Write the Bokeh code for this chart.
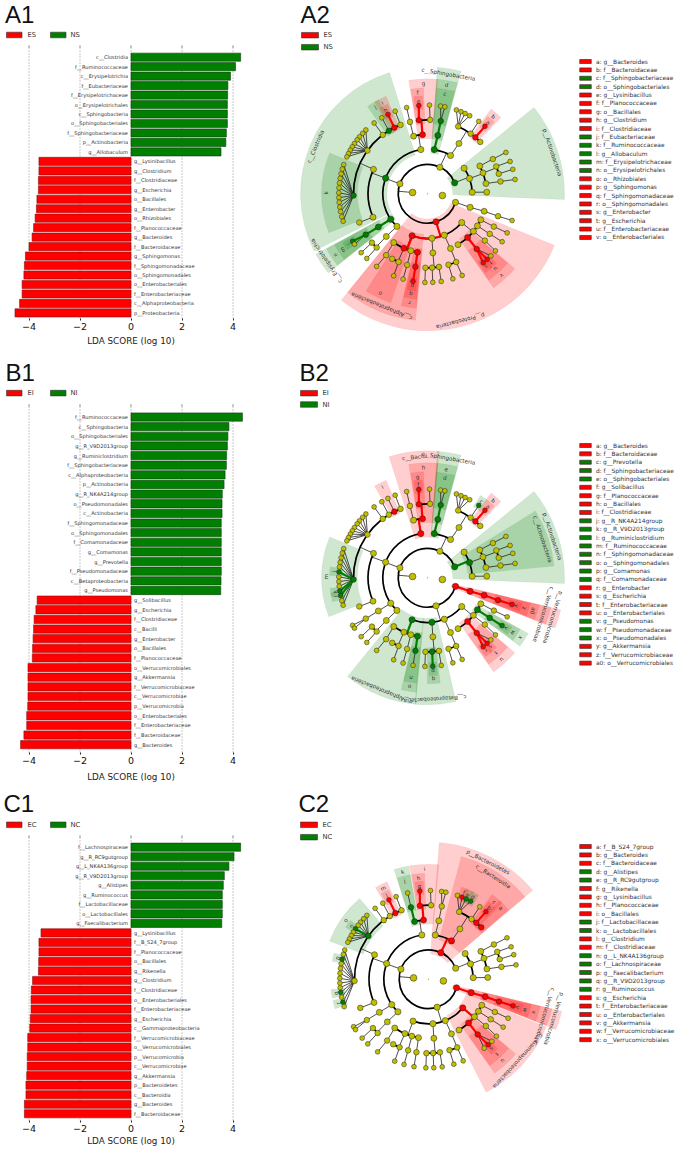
import math
from bokeh.plotting import figure
from bokeh.layouts import column, row
from bokeh.models import Range1d, FixedTicker
from bokeh.core.properties import value
from bokeh.embed import file_html
from bokeh.resources import INLINE

# ---------- LDA bar data ----------
A1_NAMES_NS = ["c__Clostridia", "f__Ruminococcaceae", "c__Erysipelotrichia", "f__Eubacteriaceae", "f__Erysipelotrichaceae", "o__Erysipelotrichales", "c__Sphingobacteria", "o__Sphingobacteriales", "f__Sphingobacteriaceae", "p__Actinobacteria", "g__Allobaculum"]
A1_VALUES_NS = [4.30, 4.10, 3.90, 3.80, 3.79, 3.78, 3.78, 3.78, 3.74, 3.72, 3.53]
A1_NAMES_ES = ["g__Lysinibacillus", "g__Clostridium", "f__Clostridiaceae", "g__Escherichia", "o__Bacillales", "g__Enterobacter", "o__Rhizobiales", "f__Planococcaceae", "g__Bacteroides", "f__Bacteroidaceae", "g__Sphingomonas", "f__Sphingomonadaceae", "o__Sphingomonadales", "o__Enterobacteriales", "f__Enterobacteriaceae", "c__Alphaproteobacteria", "p__Proteobacteria"]
A1_VALUES_ES = [-3.61, -3.61, -3.63, -3.63, -3.69, -3.71, -3.76, -3.82, -3.88, -4.00, -4.14, -4.18, -4.20, -4.27, -4.27, -4.37, -4.55]

B1_NAMES_NI = ["f__Ruminococcaceae", "c__Sphingobacteria", "o__Sphingobacteriales", "g__R_V9D2013group", "g__Ruminiclostridium", "f__Sphingobacteriaceae", "c__Alphaproteobacteria", "p__Actinobacteria", "g__R_NK4A214group", "o__Pseudomonadales", "c__Actinobacteria", "f__Sphingomonadaceae", "o__Sphingomonadales", "f__Comamonadaceae", "g__Comamonas", "g__Prevotella", "f__Pseudomonadaceae", "c__Betaproteobacteria", "g__Pseudomonas"]
B1_VALUES_NI = [4.37, 3.84, 3.80, 3.78, 3.75, 3.74, 3.69, 3.65, 3.58, 3.57, 3.57, 3.54, 3.54, 3.54, 3.54, 3.54, 3.54, 3.53, 3.52]
B1_NAMES_EI = ["g__Solibacillus", "g__Escherichia", "f__Clostridiaceae", "c__Bacilli", "g__Enterobacter", "o__Bacillales", "f__Planococcaceae", "o__Verrucomicrobiales", "g__Akkermansia", "f__Verrucomicrobiaceae", "c__Verrucomicrobiae", "p__Verrucomicrobia", "o__Enterobacteriales", "f__Enterobacteriaceae", "f__Bacteroidaceae", "g__Bacteroides"]
B1_VALUES_EI = [-3.68, -3.73, -3.80, -3.82, -3.84, -3.86, -3.87, -4.04, -4.04, -4.04, -4.04, -4.05, -4.09, -4.09, -4.20, -4.33]

C1_NAMES_NC = ["f__Lachnospiraceae", "g__R_RC9gutgroup", "g__L_NK4A136group", "g__R_V9D2013group", "g__Alistipes", "g__Ruminococcus", "f__Lactobacillaceae", "o__Lactobacillales", "g__Faecalibacterium"]
C1_VALUES_NC = [4.30, 4.04, 3.84, 3.66, 3.62, 3.58, 3.58, 3.58, 3.56]
C1_NAMES_EC = ["g__Lysinibacillus", "f__B_S24_7group", "f__Planococcaceae", "o__Bacillales", "g__Rikenella", "g__Clostridium", "f__Clostridiaceae", "o__Enterobacteriales", "f__Enterobacteriaceae", "g__Escherichia", "c__Gammaproteobacteria", "f__Verrucomicrobiaceae", "o__Verrucomicrobiales", "p__Verrucomicrobia", "c__Verrucomicrobiae", "g__Akkermansia", "p__Bacteroidetes", "c__Bacteroidia", "g__Bacteroides", "f__Bacteroidaceae"]
C1_VALUES_EC = [-3.53, -3.61, -3.61, -3.62, -3.63, -3.86, -3.91, -3.92, -3.92, -3.95, -3.97, -4.05, -4.05, -4.07, -4.07, -4.09, -4.12, -4.12, -4.18, -4.18]

TICKS = [-4, -2, 0, 2, 4]

# ---------- Shared taxonomy tree: (node, parent, rank level, angle in degrees) ----------
ROOT_NODES = [("kB", None, 1, 175), ("kA", None, 1, 353.5)]
ACTINO_NODES = [
    ("pAct", "kB", 2, 22), ("cA1", "pAct", 3, 35), ("cAct", "pAct", 3, 20), ("cA3", "pAct", 3, 2),
    ("oA1", "cAct", 4, 28), ("oA2", "cAct", 4, 20.6), ("oA3", "cAct", 4, 10), ("oA4", "cA3", 4, 1.6),
    ("fA1", "oA1", 5, 28), ("fA2", "oA2", 5, 21.7), ("fA3", "oA2", 5, 15.7), ("fA4", "oA3", 5, 9.6),
    ("gA1", "fA1", 6, 27.8), ("gA2", "fA2", 6, 21.4), ("gA3", "fA3", 6, 16), ("gA4", "fA4", 6, 9.3),
]
BACTEROIDETES_NODES = [
    ("pBac", "kB", 2, 65), ("cBac", "pBac", 3, 59), ("cSph", "pBac", 3, 81.3),
    ("oBac", "cBac", 4, 58), ("oSph", "cSph", 4, 80), ("fSph", "oSph", 5, 79.7),
    ("gS1", "fSph", 6, 81.5), ("gS2", "fSph", 6, 78.7),
    ("fRik", "oBac", 5, 65.5), ("fPre", "oBac", 5, 54.4), ("fBcd", "oBac", 5, 49.7), ("fS24", "oBac", 5, 44.5),
    ("gX", "fRik", 6, 71), ("gRik", "fRik", 6, 67.8), ("gRC9", "fRik", 6, 64.9), ("gAli", "fRik", 6, 61.6),
    ("gPre", "fPre", 6, 54.7), ("gBcd", "fBcd", 6, 49.6),
]
FIRMICUTES_NODES = [
    ("pFir", "kB", 2, 160), ("cBacilli", "pFir", 3, 98.6), ("cClo", "pFir", 3, 159.5), ("cEry", "pFir", 3, 214.7), ("cF4", "pFir", 3, 226.8),
    ("oBacil", "cBacilli", 4, 94.8), ("oLac", "cBacilli", 4, 103.6),
    ("fPla", "oBacil", 5, 96.7), ("fP2", "oBacil", 5, 88), ("fLac", "oLac", 5, 103.7),
    ("gLys", "fPla", 6, 95.6), ("gP2", "fP2", 6, 88.7), ("gLac", "fLac", 6, 103.6),
    ("oClo", "cClo", 4, 155.6), ("oC2", "cClo", 4, 203.2), ("fC7", "oC2", 5, 202.8),
    ("fRum", "oClo", 5, 181.3), ("fLach", "oClo", 5, 144.3), ("fC3", "oClo", 5, 127.2), ("fEub", "oClo", 5, 121.5), ("fCloa", "oClo", 5, 116.6), ("fC6", "oClo", 5, 111.4),
    ("gC3", "fC3", 6, 127), ("gEub", "fEub", 6, 121), ("gClo", "fCloa", 6, 116.5), ("gC6", "fC6", 6, 111.4),
    ("oEry", "cEry", 4, 214), ("fEry", "oEry", 5, 213.5), ("gAll", "fEry", 6, 212.4), ("gEry2", "fEry", 6, 214.6),
    ("oF4", "cF4", 4, 226), ("fF4a", "oF4", 5, 221.3), ("fF4b", "oF4", 5, 226.6), ("gF4a", "fF4a", 6, 221.6), ("gF4b", "fF4b", 6, 226.8),
]
RUMINO_FAN = [160.8, 163.8, 167, 170, 173, 176.2, 179.4, 182.5, 185.5, 188.6, 191.6, 195, 198]
LACHNO_FAN = [134, 137, 140, 142.5, 145.5, 148, 150.5, 153, 155.4]
PROTEO_NODES = [
    ("pPro", "kB", 2, 287), ("cAlp", "pPro", 3, 249.8), ("cBet", "pPro", 3, 275.7), ("cDel", "pPro", 3, 292.1), ("cGam", "pPro", 3, 320),
    ("oX", "cAlp", 4, 235.3), ("oRhi", "cAlp", 4, 246.5), ("oY", "cAlp", 4, 253.7), ("oSpm", "cAlp", 4, 260.3),
    ("fX", "oX", 5, 236), ("gX2", "fX", 6, 235), ("fR1", "oRhi", 5, 241.5), ("fR2", "oRhi", 5, 247), ("gR2x", "fR2", 6, 247.6),
    ("fY", "oY", 5, 254), ("gY", "fY", 6, 254), ("fSpm", "oSpm", 5, 260.6), ("gSpm", "fSpm", 6, 260.6),
    ("oBur", "cBet", 4, 275.2), ("fB1", "oBur", 5, 268.4), ("fCom", "oBur", 5, 273.6), ("fB3", "oBur", 5, 278.9),
    ("gB1", "fB1", 6, 268.3), ("gCom", "fCom", 6, 273.4), ("gB3", "fB3", 6, 278.9),
    ("oD", "cDel", 4, 292.8), ("fD1", "oD", 5, 286.5), ("fD2", "oD", 5, 292.8), ("gD1", "fD1", 6, 286.6), ("gD2", "fD2", 6, 293),
    ("oG1", "cGam", 4, 301), ("oEnt", "cGam", 4, 312.5), ("oG3", "cGam", 4, 320.8), ("oPse", "cGam", 4, 327.3), ("oG5", "cGam", 4, 334),
    ("fEnt", "oEnt", 5, 311.7), ("gEnb", "fEnt", 6, 308.9), ("gEsc", "fEnt", 6, 312.3), ("gE3", "fEnt", 6, 315.6),
    ("fG3", "oG3", 5, 320.8), ("gG3", "fG3", 6, 320), ("fPse", "oPse", 5, 327.2), ("gPse", "fPse", 6, 327.3), ("fG5", "oG5", 5, 333.7), ("gG5", "fG5", 6, 333.9),
]
VERRUCO_NODES = [("pVer", "kB", 2, 343), ("cVer", "pVer", 3, 342.4), ("oVer", "cVer", 4, 342.9), ("fVer", "oVer", 5, 342.4), ("gVer", "fVer", 6, 342.5)]

# ---------- Highlighted clades: (node, wedge label, enriched group 0/1) ----------
A2_CLADES = [
    ("pAct", "p__Actinobacteria", 1), ("pPro", "p__Proteobacteria", 0), ("cClo", "c__Clostridia", 1), ("cEry", "c__Erysipelotrichia", 1),
    ("cSph", "c__Sphingobacteria", 1), ("cAlp", "c__Alphaproteobacteria", 0),
    ("oBacil", "g", 0), ("oSph", "d", 1), ("oEry", "n", 1), ("oRhi", "o", 0), ("oSpm", "r", 0), ("oEnt", "v", 0),
    ("fBcd", "b", 0), ("fSph", "c", 1), ("fPla", "f", 0), ("fCloa", "i", 0), ("fEub", "j", 1), ("fRum", "k", 1), ("fEry", "m", 1), ("fSpm", "q", 0), ("fEnt", "u", 0),
    ("gBcd", "a", 0), ("gLys", "e", 0), ("gClo", "h", 0), ("gAll", "l", 1), ("gSpm", "p", 0), ("gEnb", "s", 0), ("gEsc", "t", 0),
]
B2_CLADES = [
    ("pAct", "p__Actinobacteria", 1), ("pVer", "p__Verrucomicrobia", 0),
    ("cAct", "c__Actinobacteria", 1), ("cBacilli", "c__Bacilli", 0), ("cSph", "c__Sphingobacteria", 1), ("cAlp", "c__Alphaproteobacteria", 1), ("cBet", "c__Betaproteobacteria", 1), ("cVer", "c__Verrucomicrobiae", 0),
    ("oSph", "e", 1), ("oBacil", "h", 0), ("oSpm", "o", 1), ("oEnt", "u", 0), ("oPse", "x", 1), ("oVer", "a0", 0),
    ("fBcd", "b", 0), ("fSph", "d", 1), ("fPla", "g", 0), ("fCloa", "i", 0), ("fRum", "m", 1), ("fSpm", "n", 1), ("fCom", "q", 1), ("fEnt", "t", 0), ("fPse", "w", 1), ("fVer", "z", 0),
    ("gBcd", "a", 0), ("gPre", "c", 1), ("gLys", "f", 0), ("gR6", "j", 1), ("gR10", "k", 1), ("gR11", "l", 1), ("gCom", "p", 1), ("gEnb", "r", 0), ("gEsc", "s", 0), ("gPse", "v", 1), ("gVer", "y", 0),
]
C2_CLADES = [
    ("pBac", "p__Bacteroidetes", 0), ("pVer", "p__Verrucomicrobia", 0),
    ("cBac", "c__Bacteroidia", 0), ("cGam", "c__Gammaproteobacteria", 0), ("cVer", "c__Verrucomicrobiae", 0),
    ("oBacil", "i", 0), ("oLac", "k", 1), ("oEnt", "u", 0), ("oVer", "x", 0),
    ("fS24", "a", 0), ("fBcd", "c", 0), ("fPla", "h", 0), ("fLac", "j", 1), ("fCloa", "m", 0), ("fLach", "o", 1), ("fEnt", "t", 0), ("fVer", "w", 0),
    ("gBcd", "b", 0), ("gAli", "d", 1), ("gRC9", "e", 1), ("gRik", "f", 0), ("gLys", "g", 0), ("gClo", "l", 0), ("gL4", "n", 1), ("gR3", "p", 1),
    ("gR10", "q", 1), ("gR12", "r", 1), ("gEsc", "s", 0), ("gVer", "v", 0),
]
A2_KEY = ["a: g__Bacteroides", "b: f__Bacteroidaceae", "c: f__Sphingobacteriaceae", "d: o__Sphingobacteriales", "e: g__Lysinibacillus", "f: f__Planococcaceae", "g: o__Bacillales", "h: g__Clostridium", "i: f__Clostridiaceae", "j: f__Eubacteriaceae", "k: f__Ruminococcaceae", "l: g__Allobaculum", "m: f__Erysipelotrichaceae", "n: o__Erysipelotrichales", "o: o__Rhizobiales", "p: g__Sphingomonas", "q: f__Sphingomonadaceae", "r: o__Sphingomonadales", "s: g__Enterobacter", "t: g__Escherichia", "u: f__Enterobacteriaceae", "v: o__Enterobacteriales"]
A2_KEY_GROUP = [0, 0, 1, 1, 0, 0, 0, 0, 0, 1, 1, 1, 1, 1, 0, 0, 0, 0, 0, 0, 0, 0]
B2_KEY = ["a: g__Bacteroides", "b: f__Bacteroidaceae", "c: g__Prevotella", "d: f__Sphingobacteriaceae", "e: o__Sphingobacteriales", "f: g__Solibacillus", "g: f__Planococcaceae", "h: o__Bacillales", "i: f__Clostridiaceae", "j: g__R_NK4A214group", "k: g__R_V9D2013group", "l: g__Ruminiclostridium", "m: f__Ruminococcaceae", "n: f__Sphingomonadaceae", "o: o__Sphingomonadales", "p: g__Comamonas", "q: f__Comamonadaceae", "r: g__Enterobacter", "s: g__Escherichia", "t: f__Enterobacteriaceae", "u: o__Enterobacteriales", "v: g__Pseudomonas", "w: f__Pseudomonadaceae", "x: o__Pseudomonadales", "y: g__Akkermansia", "z: f__Verrucomicrobiaceae", "a0: o__Verrucomicrobiales"]
B2_KEY_GROUP = [0, 0, 1, 1, 1, 0, 0, 0, 0, 1, 1, 1, 1, 1, 1, 1, 1, 0, 0, 0, 0, 1, 1, 1, 0, 0, 0]
C2_KEY = ["a: f__B_S24_7group", "b: g__Bacteroides", "c: f__Bacteroidaceae", "d: g__Alistipes", "e: g__R_RC9gutgroup", "f: g__Rikenella", "g: g__Lysinibacillus", "h: f__Planococcaceae", "i: o__Bacillales", "j: f__Lactobacillaceae", "k: o__Lactobacillales", "l: g__Clostridium", "m: f__Clostridiaceae", "n: g__L_NK4A136group", "o: f__Lachnospiraceae", "p: g__Faecalibacterium", "q: g__R_V9D2013group", "r: g__Ruminococcus", "s: g__Escherichia", "t: f__Enterobacteriaceae", "u: o__Enterobacteriales", "v: g__Akkermansia", "w: f__Verrucomicrobiaceae", "x: o__Verrucomicrobiales"]
C2_KEY_GROUP = [0, 0, 0, 1, 1, 0, 0, 0, 0, 1, 1, 0, 0, 1, 1, 1, 1, 1, 0, 0, 0, 0, 0, 0]

# ---------- Style and geometry (page pixels) ----------
RED, GREEN, YELLOW = "#ff0000", "#007f00", "#bfbf00"
GROUP_COLOR = [RED, GREEN]
FONT = "DejaVu Sans"
LEVEL_R = {1: 15, 2: 29.3, 3: 44.7, 4: 59.3, 5: 74, 6: 88.7}
LEVEL_OUTER = {2: 137, 3: 127, 4: 115, 5: 106, 6: 98}
LEVEL_PAD = {2: 4, 3: 4, 4: 3.8, 5: 3.5, 6: 2.5}
NODE_SIZE = {1: 6.7, 2: 6.2, 3: 6.2, 4: 6, 5: 5.6, 6: 4.8}
LEFT_W, RIGHT_W = 261, 414
ROWS = [(0, 355), (355, 784), (784, 1149)]

TREE = ROOT_NODES + ACTINO_NODES + BACTEROIDETES_NODES + FIRMICUTES_NODES + PROTEO_NODES + VERRUCO_NODES
TREE += [("gR%d" % (i + 1), "fRum", 6, t) for i, t in enumerate(RUMINO_FAN)]
TREE += [("gL%d" % i, "fLach", 6, t) for i, t in enumerate(LACHNO_FAN)]
BY_NAME = {n[0]: n for n in TREE}
CHILDREN = {}
for n in TREE:
    if n[1]:
        CHILDREN.setdefault(n[1], []).append(n)


def subtree_angles(name):
    kids = CHILDREN.get(name, [])
    if not kids:
        return [BY_NAME[name][3]]
    out = []
    for k in kids:
        out += subtree_angles(k[0])
    return out


def bar_panel(top_row, bottom_row, frame_top, frame_bottom, first, step, hi_names, hi_vals, lo_names, lo_vals, hi_lab, lo_lab, title, title_x, title_base, legend_y, label_standoff):
    names = hi_names + lo_names
    n = len(names)
    x0, sc = 130.5, 25.5
    last = first + step * (n - 1)
    ydata = lambda page_y: (last - page_y) / step
    xdata = lambda page_x: (page_x - x0) / sc
    p = figure(width=LEFT_W, height=bottom_row - top_row,
               x_range=Range1d(xdata(0), xdata(LEFT_W)),
               y_range=Range1d(ydata(frame_bottom), ydata(top_row)),
               min_border_left=0, min_border_right=0, min_border_top=0, min_border_bottom=bottom_row - frame_bottom,
               toolbar_location=None, output_backend="svg", y_axis_type=None)
    p.outline_line_color = None
    p.ygrid.visible = False
    p.xgrid.visible = False
    p.segment(x0=TICKS, x1=TICKS, y0=[ydata(frame_bottom)] * len(TICKS), y1=[ydata(frame_top)] * len(TICKS),
              line_color="#777777", line_dash="1 2", line_width=0.8)
    # short tick marks along the upper edge of the bar area
    p.segment(x0=TICKS, x1=TICKS, y0=[ydata(frame_top)] * len(TICKS), y1=[ydata(frame_top - 2)] * len(TICKS),
              line_color="#444444", line_width=0.7)
    ys_hi = [n - 1 - i for i in range(len(hi_names))]
    ys_lo = [n - 1 - len(hi_names) - i for i in range(len(lo_names))]
    p.hbar(y=ys_lo, right=lo_vals, left=0, height=0.86, fill_color=RED, line_color="#8a1010", line_width=0.6)
    p.hbar(y=ys_hi, right=hi_vals, left=0, height=0.86, fill_color=GREEN, line_color="#0f3f0f", line_width=0.6)
    p.text(x=[0] * len(hi_names), y=ys_hi, text=hi_names, text_align="right", text_baseline="middle", x_offset=-3,
           text_font=value(FONT), text_font_size="5.1px", text_color="#333333")
    p.text(x=[0] * len(lo_names), y=ys_lo, text=lo_names, text_align="left", text_baseline="middle", x_offset=3,
           text_font=value(FONT), text_font_size="5.1px", text_color="#333333")
    ax = p.xaxis[0]
    ax.ticker = FixedTicker(ticks=TICKS)
    ax.axis_line_color = None
    ax.major_tick_in, ax.major_tick_out = 0, 2
    ax.minor_tick_line_color = None
    ax.major_tick_line_color = "#222222"
    ax.major_label_text_font = FONT
    ax.major_label_text_font_size = "9.5px"
    ax.major_label_text_color = "#111111"
    ax.major_label_standoff = 2
    ax.axis_label = "LDA SCORE (log 10)"
    ax.axis_label_text_font = FONT
    ax.axis_label_text_font_size = "8.8px"
    ax.axis_label_text_font_style = "normal"
    ax.axis_label_text_color = "#222222"
    ax.axis_label_standoff = label_standoff
    p.text(x=[xdata(title_x)], y=[ydata(title_base - 9)], text=[title], text_font=value("Liberation Sans"),
           text_font_size="24px", text_color="#111111", text_baseline="middle")
    for lab, col, sx, tx in [(lo_lab, RED, 6, 27), (hi_lab, GREEN, 50, 70)]:
        p.quad(left=[xdata(sx)], right=[xdata(sx + 15.5)], top=[ydata(legend_y - 2.8)], bottom=[ydata(legend_y + 2.8)],
               fill_color=col, line_color="#333333", line_width=0.6)
        p.text(x=[xdata(tx)], y=[ydata(legend_y)], text=[lab], text_baseline="middle", text_font=value(FONT),
               text_font_size="6.8px", text_color="#333333")
    return p


def clado_panel(top_row, bottom_row, cx, page_cy, clades, key, key_group, key_y0, key_step, groups, title, title_x, title_base, sw_x, sw_ys):
    cy = -page_cy
    p = figure(width=RIGHT_W, height=bottom_row - top_row, x_range=Range1d(LEFT_W, LEFT_W + RIGHT_W),
               y_range=Range1d(-bottom_row, -top_row), min_border=0, toolbar_location=None,
               output_backend="svg", x_axis_type=None, y_axis_type=None)
    p.grid.visible = False
    p.outline_line_color = None

    def pos(theta, level):
        rad = math.radians(theta)
        return cx + LEVEL_R[level] * math.cos(rad), cy + LEVEL_R[level] * math.sin(rad)

    color_of = {c[0]: GROUP_COLOR[c[2]] for c in clades}
    # wedges, outermost first
    for node, label, grp in sorted(clades, key=lambda c: BY_NAME[c[0]][2]):
        lev = BY_NAME[node][2]
        ang = subtree_angles(node)
        a0, a1 = min(ang) - LEVEL_PAD[lev], max(ang) + LEVEL_PAD[lev]
        col = GROUP_COLOR[grp]
        p.annular_wedge(x=[cx], y=[cy], inner_radius=LEVEL_R[lev] - 4, outer_radius=LEVEL_OUTER[lev],
                        start_angle=math.radians(a0), end_angle=math.radians(a1),
                        fill_color=col, fill_alpha=0.19, line_color=col, line_alpha=0.12, line_width=0.5)
    for node, label, grp in clades:
        lev = BY_NAME[node][2]
        ang = subtree_angles(node)
        mid = (min(ang) + max(ang)) / 2
        long_lab = len(label) > 3
        r = LEVEL_OUTER[lev] - (5.5 if long_lab else 4.5)
        p.text(x=[cx + r * math.cos(math.radians(mid))], y=[cy + r * math.sin(math.radians(mid))], text=[label],
               angle=math.radians(mid - 90), text_align="center", text_baseline="middle",
               text_font=value(FONT), text_font_size="5.6px", text_color="#333333")
    # tree edges
    seg_x, seg_y, seg_w, seg_c = [], [], [], []

    def seg(a, b, w, c):
        seg_x.append([a[0], b[0]]); seg_y.append([a[1], b[1]]); seg_w.append(w); seg_c.append(c)

    arcs = []
    for parent, kids in CHILDREN.items():
        pn = BY_NAME[parent]
        lv, th = pn[2], pn[3]
        cp = color_of.get(parent)
        ck = kids[0][2]
        if lv == 5 or len(kids) == 1:
            for k in kids:
                cc = color_of.get(k[0])
                if cc and cp == cc:
                    seg(pos(th, lv), pos(k[3], k[2]), 2.2, cc)
                else:
                    seg(pos(th, lv), pos(k[3], k[2]), 0.8, "#222222")
            continue
        seg(pos(th, lv), pos(th, ck), 0.8, "#222222")
        angs = [k[3] for k in kids] + [th]
        arcs.append((LEVEL_R[ck], min(angs), max(angs), 1.7, "#000000"))
        for k in kids:
            cc = color_of.get(k[0])
            if cc and cp == cc:
                seg(pos(th, lv), pos(th, ck), 2.2, cc)
                arcs.append((LEVEL_R[ck], min(th, k[3]), max(th, k[3]), 2.2, cc))
    for w_c in sorted(set(zip(seg_w, seg_c))):
        xs = [x for x, w, c in zip(seg_x, seg_w, seg_c) if (w, c) == w_c]
        ys = [y for y, w, c in zip(seg_y, seg_w, seg_c) if (w, c) == w_c]
        p.multi_line(xs=xs, ys=ys, line_width=w_c[0], line_color=w_c[1])
    for r, a0, a1, w, c in arcs:
        p.arc(x=[cx], y=[cy], radius=r, start_angle=math.radians(a0), end_angle=math.radians(a1),
              line_width=w, line_color=c)
    # nodes
    xs, ys, sz, cols = [], [], [], []
    for name, parent, lev, th in TREE:
        x, y = pos(th, lev)
        xs.append(x); ys.append(y); sz.append(NODE_SIZE[lev]); cols.append(color_of.get(name, YELLOW))
    p.scatter(x=xs, y=ys, size=sz, fill_color=cols, line_color="#222222", line_width=0.5)
    p.scatter(x=[cx], y=[cy], size=1.5, fill_color=YELLOW, line_color=None)
    # title and group legend
    p.text(x=[title_x], y=[-(title_base - 9)], text=[title], text_font=value("Liberation Sans"), text_font_size="24px",
           text_color="#111111", text_baseline="middle")
    for i, (lab, y) in enumerate(zip(groups, sw_ys)):
        p.rect(x=[sw_x + 8.5], y=[-y], width=17, height=5.5, fill_color=GROUP_COLOR[i], line_color="#333333", line_width=0.6)
        p.text(x=[sw_x + 22], y=[-y], text=[lab], text_baseline="middle", text_font=value(FONT), text_font_size="6.8px", text_color="#333333")
    # clade key
    key_ys = [-(key_y0 + key_step * i) for i in range(len(key))]
    p.rect(x=[585] * len(key), y=key_ys, width=11.5, height=4, fill_color=[GROUP_COLOR[g] for g in key_group],
           line_color="#4a2a2a", line_width=0.7)
    p.text(x=[595.5] * len(key), y=key_ys, text=key, text_baseline="middle", text_font=value(FONT),
           text_font_size="5.9px", text_color="#333333")
    return p


a1 = bar_panel(*ROWS[0], 47, 318, 56.7, 9.47, A1_NAMES_NS, A1_VALUES_NS, A1_NAMES_ES, A1_VALUES_ES, "NS", "ES", "A1", 4.5, 23, 34.5, 3)
b1 = bar_panel(*ROWS[1], 406, 753, 416.7, 9.66, B1_NAMES_NI, B1_VALUES_NI, B1_NAMES_EI, B1_VALUES_EI, "NI", "EI", "B1", 5, 380.7, 392.7, 5)
c1 = bar_panel(*ROWS[2], 837, 1120, 846.7, 9.52, C1_NAMES_NC, C1_VALUES_NC, C1_NAMES_EC, C1_VALUES_EC, "NC", "EC", "C1", 3, 812, 824.3, 1)
a2 = clado_panel(*ROWS[0], 427, 193.3, A2_CLADES, A2_KEY, A2_KEY_GROUP, 61, 8.38, ["ES", "NS"], "A2", 300, 23, 301, [34.7, 46.7])
b2 = clado_panel(*ROWS[1], 427, 577.3, B2_CLADES, B2_KEY, B2_KEY_GROUP, 445, 8.37, ["EI", "NI"], "B2", 299, 380.7, 300, [392.7, 404])
c2 = clado_panel(*ROWS[2], 428, 978.7, C2_CLADES, C2_KEY, C2_KEY_GROUP, 846, 8.4, ["EC", "NC"], "C2", 298, 812, 300, [824.3, 836.7])

page = row(column(a1, b1, c1, spacing=0), column(a2, b2, c2, spacing=0), spacing=0)
open("out.html", "w").write(file_html(page, INLINE))
